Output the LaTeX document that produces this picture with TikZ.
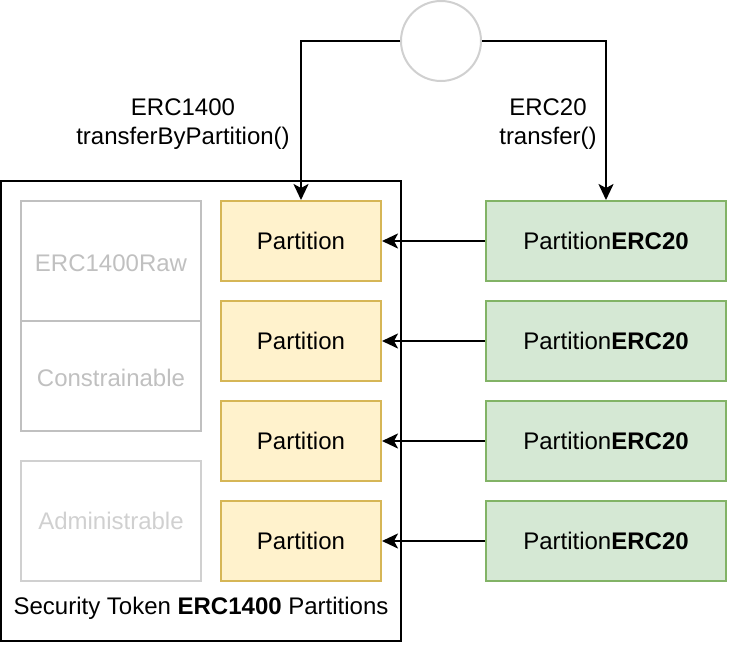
\documentclass[tikz,border=0pt]{standalone}
\usepackage{fontspec}
\setmainfont{Liberation Sans}
\usetikzlibrary{arrows.meta}
\definecolor{yfill}{HTML}{FFF2CC}
\definecolor{ydraw}{HTML}{D6B656}
\definecolor{gfill}{HTML}{D5E8D4}
\definecolor{gdraw}{HTML}{82B366}
\definecolor{gray1}{HTML}{C0C0C0}
\definecolor{gray2}{HTML}{D0D0D0}
\begin{document}
\begin{tikzpicture}[x=1pt,y=-1pt,
  every node/.style={font=\fontsize{24}{28.5}\selectfont},
  part/.style={draw=ydraw,fill=yfill,line width=2pt,minimum width=160pt,minimum height=80pt,inner sep=0pt},
  perc/.style={draw=gdraw,fill=gfill,line width=2pt,minimum width=240pt,minimum height=80pt,inner sep=0pt},
  gbox/.style={draw=gray1,line width=2pt,minimum width=180pt,inner sep=0pt,text=gray1},
  conn/.style={line width=2.2pt,-{Stealth[length=16pt,width=15pt,inset=4pt]}}]
\useasboundingbox (0,0) rectangle (742,662);
\node[draw,line width=2.2pt,minimum width=400pt,minimum height=460pt,inner sep=0pt] (outer) at (201,411) {};
\node (lbl) at (201,608) {Security Token \textbf{ERC1400} Partitions};
\node[gbox,minimum height=120pt] (raw) at (111,261) {};
\node[text=gray1] at (111,263) {ERC1400Raw};
\node[gbox,minimum height=110pt] (con) at (111,376) {};
\node[text=gray1] at (111,378) {Constrainable};
\node[gbox,draw=gray2,text=gray2,minimum height=120pt] (adm) at (111,521) {Administrable};
\node[part] (p1) at (301,241) {Partition};
\node[part] (p2) at (301,341) {Partition};
\node[part] (p3) at (301,441) {Partition};
\node[part] (p4) at (301,541) {Partition};
\node[perc] (e1) at (606,241) {Partition\textbf{ERC20}};
\node[perc] (e2) at (606,341) {Partition\textbf{ERC20}};
\node[perc] (e3) at (606,441) {Partition\textbf{ERC20}};
\node[perc] (e4) at (606,541) {Partition\textbf{ERC20}};
\node[draw=gray2,line width=2pt,circle,minimum size=80pt,inner sep=0pt] (c) at (441,41) {};
\node[align=center] (l1) at (183,124) {ERC1400\\transferByPartition()};
\node[align=center] (l2) at (548,124) {ERC20\\transfer()};
\draw[conn] (c.west) -| (p1.north);
\draw[conn] (c.east) -| (e1.north);
\foreach \i in {1,2,3,4} \draw[conn] (e\i.west) -- (p\i.east);
\end{tikzpicture}
\end{document}
